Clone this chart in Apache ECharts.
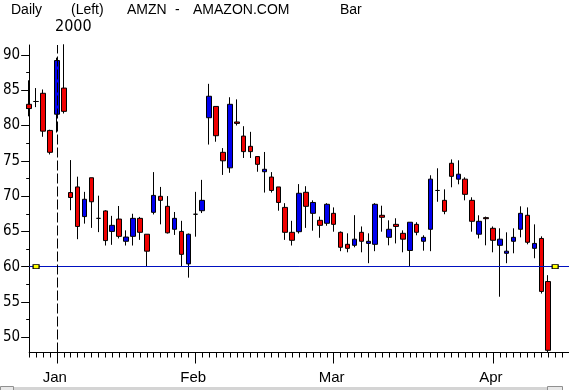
<!DOCTYPE html>
<html>
<head>
<meta charset="utf-8">
<script src="https://cdn.jsdelivr.net/npm/echarts@6/dist/echarts.min.js"></script>
<style>
html,body{margin:0;padding:0;background:#fff;}
#c{width:569px;height:390px;}
</style>
</head>
<body>
<div id="c"></div>
<script>
// ---- data ----
var dates = [
 '1999-12-28','1999-12-29','1999-12-30','1999-12-31',
 '2000-01-03','2000-01-04','2000-01-05','2000-01-06','2000-01-07','2000-01-10','2000-01-11','2000-01-12','2000-01-13','2000-01-14',
 '2000-01-18','2000-01-19','2000-01-20','2000-01-21','2000-01-24','2000-01-25','2000-01-26','2000-01-27','2000-01-28','2000-01-31',
 '2000-02-01','2000-02-02','2000-02-03','2000-02-04','2000-02-07','2000-02-08','2000-02-09','2000-02-10','2000-02-11','2000-02-14',
 '2000-02-15','2000-02-16','2000-02-17','2000-02-18','2000-02-22','2000-02-23','2000-02-24','2000-02-25','2000-02-28','2000-02-29',
 '2000-03-01','2000-03-02','2000-03-03','2000-03-06','2000-03-07','2000-03-08','2000-03-09','2000-03-10','2000-03-13','2000-03-14',
 '2000-03-15','2000-03-16','2000-03-17','2000-03-20','2000-03-21','2000-03-22','2000-03-23','2000-03-24','2000-03-27','2000-03-28',
 '2000-03-29','2000-03-30','2000-03-31',
 '2000-04-03','2000-04-04','2000-04-05','2000-04-06','2000-04-07','2000-04-10','2000-04-11','2000-04-12','2000-04-13'
];
var openP = [
 83.0, 83.4, 84.56, 79.3,
 81.6, 85.3, 70.5, 71.3, 67.1, 72.6, 66.85, 67.9, 65.0, 66.75, 63.6, 64.3, 66.85, 64.6, 67.7, 69.97, 68.55, 65.3, 65.0, 60.4,
 67.43, 67.93, 81.1, 82.7, 76.2, 74.0, 80.5, 78.5, 77.05, 75.6, 73.45, 72.7, 71.3, 68.4, 64.87, 64.96, 70.54, 67.56, 66.57, 66.15,
 67.56, 64.87, 63.17, 63.03, 64.87, 63.3, 63.17, 67.28, 64.16, 66.0, 64.73, 62.3, 66.0, 63.6, 65.3, 70.8, 69.4, 74.65, 72.4, 72.4, 69.4, 64.6, 66.95,
 65.44, 63.03, 61.9, 63.6, 65.3, 67.28, 62.6, 64.0, 57.9
];
var closeP = [
 82.4, 83.4, 79.2, 76.2,
 89.2, 82.0, 69.8, 65.7, 69.55, 69.2, 66.85, 63.7, 65.86, 64.3, 64.2, 66.85, 64.87, 62.2, 70.1, 69.4, 64.8, 66.85, 61.75, 64.6,
 67.43, 69.4, 84.14, 78.55, 75.0, 83.0, 80.3, 76.3, 76.3, 74.5, 73.8, 70.8, 69.1, 64.87, 63.74, 70.4, 68.55, 69.1, 65.86, 68.84,
 66.0, 62.75, 62.6, 63.9, 63.6, 63.6, 68.84, 67.0, 65.3, 65.7, 63.9, 66.3, 64.87, 64.16, 72.4, 70.8, 67.84, 72.8, 73.1, 70.25, 66.43, 66.43, 66.8,
 63.74, 63.9, 62.2, 64.16, 67.56, 63.46, 63.3, 56.5, 48.16
];
var lowP = [
 81.3, 82.6, 78.4, 75.9,
 79.0, 81.7, 68.0, 63.9, 66.1, 65.5, 64.9, 63.0, 63.1, 64.0, 63.0, 63.0, 63.8, 60.0, 67.4, 66.0, 64.7, 64.5, 60.0, 58.45,
 64.25, 67.6, 77.3, 77.7, 73.0, 73.3, 80.0, 75.4, 75.4, 73.45, 70.5, 70.5, 67.93, 63.8, 63.0, 64.7, 65.5, 65.1, 64.1, 65.8,
 64.96, 62.2, 62.04, 62.75, 62.04, 60.5, 62.2, 64.96, 63.03, 63.3, 62.04, 60.06, 64.45, 62.27, 62.2, 69.2, 67.43, 71.25, 71.67, 69.4, 64.96, 64.0, 63.03,
 62.04, 55.75, 60.5, 61.9, 64.16, 63.17, 61.2, 56.2, 47.9
];
var highP = [
 86.4, 85.3, 85.1, 79.4,
 89.6, 91.5, 75.1, 72.75, 70.6, 72.6, 70.06, 68.0, 67.2, 68.6, 65.15, 67.5, 67.05, 64.6, 73.4, 71.3, 70.0, 67.75, 66.5, 64.7,
 70.6, 72.3, 85.9, 82.7, 76.8, 84.0, 83.7, 79.9, 79.1, 75.6, 76.25, 73.4, 71.3, 69.0, 66.5, 71.7, 71.4, 69.4, 67.1, 69.0,
 68.4, 65.0, 64.73, 67.3, 65.7, 64.73, 69.0, 68.64, 66.57, 66.86, 65.15, 66.3, 66.3, 64.45, 72.95, 73.94, 70.96, 75.2, 75.07, 72.66, 69.83, 67.28, 67.1,
 65.7, 65.44, 64.87, 65.44, 68.55, 68.4, 66.0, 64.3, 58.8
];
var padSlots = ['pad1','pad2','pad3'];
var monthStarts = ['2000-01-03','2000-02-01','2000-03-01','2000-04-03'];
var monthNames = ['Jan','Feb','Mar','Apr'];
var yMajorTicks = [50,55,60,65,70,75,80,85,90];
var yMinorTicks = [52.5,57.5,62.5,67.5,72.5,77.5,82.5,87.5];
var levelValue = 60;
var yearMarkDate = '2000-01-03';

// ---- build ----
var cats = dates.concat(padSlots);
var ohlc = dates.map(function(d,i){ return [openP[i], closeP[i], lowP[i], highP[i]]; });
var isMonthStart = function(i, v){ return monthStarts.indexOf(v) >= 0; };

var numFont = '"Liberation Sans Narrow","DejaVu Sans Condensed","Liberation Sans",sans-serif';
var txtFont = '"Liberation Sans",Arial,sans-serif';

var chart = echarts.init(document.getElementById('c'), null, {renderer:'canvas'});
chart.setOption({
  animation: false,
  backgroundColor: '#ffffff',
  grid: {left: 27, top: 45, width: 546, height: 307.5, containLabel: false},
  xAxis: [
    {
      type: 'category', data: cats, boundaryGap: false, position: 'bottom',
      axisLine: {show: true, lineStyle: {color: '#000', width: 1}},
      axisTick: {show: true, interval: 0, length: 5, lineStyle: {color: '#000', width: 1}},
      axisLabel: {show: false},
      splitLine: {show: false}
    },
    {
      type: 'category', data: cats, boundaryGap: false, position: 'bottom',
      axisLine: {show: false},
      axisTick: {show: true, interval: isMonthStart, length: 11, lineStyle: {color: '#000', width: 1}},
      axisLabel: {
        show: true, interval: isMonthStart, margin: 18,
        formatter: function(v){ var k = monthStarts.indexOf(v); return k >= 0 ? monthNames[k] : ''; },
        fontFamily: txtFont, fontSize: 15, color: '#000', padding: [0,4,0,0]
      },
      splitLine: {show: false}
    }
  ],
  yAxis: [
    {
      type: 'value', min: 47.85, max: 91.4, position: 'left',
      axisLine: {show: true, lineStyle: {color: '#000', width: 1}},
      axisTick: {show: true, length: 8, customValues: yMajorTicks, lineStyle: {color: '#000', width: 1}},
      axisLabel: {show: true, margin: 9, customValues: yMajorTicks, fontFamily: numFont, fontSize: 15, color: '#000'},
      splitLine: {show: false}
    },
    {
      type: 'value', min: 47.85, max: 91.4, position: 'left',
      axisLine: {show: false},
      axisTick: {show: true, length: 3, customValues: yMinorTicks, lineStyle: {color: '#000', width: 1}},
      axisLabel: {show: false},
      splitLine: {show: false}
    }
  ],
  series: [{
    type: 'candlestick',
    xAxisIndex: 0, yAxisIndex: 0,
    data: ohlc,
    barWidth: 5,
    itemStyle: {
      color: '#0000f0', color0: '#f00000',
      borderColor: '#000', borderColor0: '#000', borderColorDoji: '#000', borderWidth: 1
    },
    emphasis: {disabled: true},
    markLine: {
      silent: true, symbol: ['none','none'], animation: false,
      label: {show: false},
      data: [
        {yAxis: levelValue, lineStyle: {color: '#0010c0', width: 1, type: 'solid'}},
        {xAxis: yearMarkDate, lineStyle: {color: '#000', width: 1, type: [10,3]}}
      ]
    },
    markPoint: {
      silent: true, symbol: 'rect', symbolSize: [6,4], animation: false,
      label: {show: false},
      itemStyle: {color: '#ffff00', borderColor: '#000', borderWidth: 1},
      data: [
        {coord: [dates[1], levelValue]},
        {coord: [padSlots[0], levelValue]}
      ]
    }
  }],
  graphic: [
    {type:'text', x: 11, y: 10, style:{text:'Daily', font:'14px '+txtFont, fill:'#000', verticalAlign:'middle', align:'left'}},
    {type:'text', x: 71, y: 10, style:{text:'(Left)', font:'14px '+txtFont, fill:'#000', verticalAlign:'middle', align:'left'}},
    {type:'text', x: 127, y: 10, style:{text:'AMZN', font:'14px '+txtFont, fill:'#000', verticalAlign:'middle', align:'left'}},
    {type:'text', x: 175, y: 10, style:{text:'-', font:'14px '+txtFont, fill:'#000', verticalAlign:'middle', align:'left'}},
    {type:'text', x: 193, y: 10, style:{text:'AMAZON.COM', font:'14px '+txtFont, fill:'#000', verticalAlign:'middle', align:'left'}},
    {type:'text', x: 340, y: 10, style:{text:'Bar', font:'14px '+txtFont, fill:'#000', verticalAlign:'middle', align:'left'}},
    {type:'text', x: 55, y: 27, style:{text:'2000', font:'16px '+numFont, fill:'#000', verticalAlign:'middle', align:'left'}},
    {type:'rect', shape:{x:14, y:387, width:533, height:3}, style:{fill:'#d4d4d4'}},
    {type:'rect', shape:{x:0.5, y:386.5, width:13, height:5}, style:{fill:'#e8e8e8', stroke:'#909090', lineWidth:1}},
    {type:'rect', shape:{x:547.5, y:386.5, width:15, height:5}, style:{fill:'#e8e8e8', stroke:'#909090', lineWidth:1}}
  ]
});
</script>
</body>
</html>
